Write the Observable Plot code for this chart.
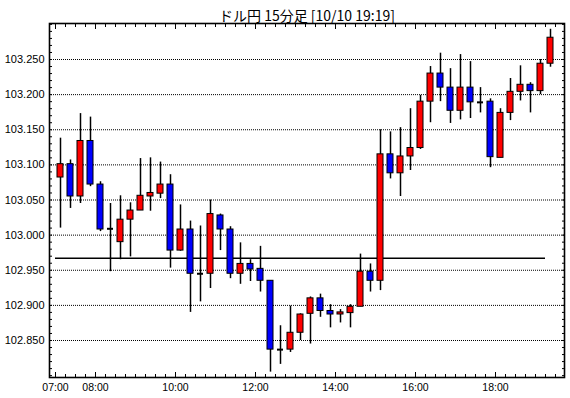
<!DOCTYPE html>
<html><head><meta charset="utf-8">
<script src="https://cdn.jsdelivr.net/npm/d3@7"></script>
<script src="https://cdn.jsdelivr.net/npm/@observablehq/plot@0.6"></script>
<style>body{margin:0;background:#fff;} svg{display:block;}</style>
</head><body><div id="chart"></div>
<script>
const title = "ドル円 15分足 [10/10 19:19]";
const times = ["07:00","07:15","07:30","07:45","08:00","08:15","08:30","08:45","09:00","09:15",
  "09:30","09:45","10:00","10:15","10:30","10:45","11:00","11:15","11:30","11:45",
  "12:00","12:15","12:30","12:45","13:00","13:15","13:30","13:45","14:00","14:15",
  "14:30","14:45","15:00","15:15","15:30","15:45","16:00","16:15","16:30","16:45",
  "17:00","17:15","17:30","17:45","18:00","18:15","18:30","18:45","19:00","19:15"];
const open  = [103.082,103.101,103.055,103.134,103.072,103.009,102.990,103.022,103.035,103.055,
  103.059,103.072,102.978,103.008,102.945,102.945,103.028,103.008,102.945,102.959,
  102.952,102.935,102.837,102.837,102.861,102.888,102.910,102.892,102.887,102.889,
  102.898,102.948,102.935,103.115,103.088,103.112,103.124,103.190,103.230,103.210,
  103.177,103.210,103.189,103.190,103.110,103.174,103.204,103.214,103.205,103.244];
const high  = [103.138,103.107,103.173,103.168,103.076,103.045,103.056,103.046,103.109,103.110,
  103.104,103.086,103.043,103.020,103.013,103.050,103.030,103.012,102.989,102.965,
  102.984,102.935,102.871,102.899,102.888,102.912,102.916,102.901,102.894,102.901,
  102.973,102.959,103.150,103.147,103.153,103.180,103.199,103.240,103.259,103.237,
  103.257,103.247,103.210,103.194,103.180,103.223,103.241,103.217,103.250,103.293];
const low   = [103.010,103.038,103.045,103.069,103.005,102.948,102.965,102.969,103.035,103.034,
  103.052,102.953,102.977,102.890,102.905,102.924,102.978,102.938,102.930,102.934,
  102.919,102.805,102.816,102.833,102.850,102.845,102.883,102.868,102.875,102.868,
  102.898,102.919,102.921,103.080,103.055,103.092,103.122,103.160,103.190,103.159,
  103.164,103.166,103.174,103.096,103.110,103.163,103.191,103.174,103.200,103.239];
const close = [103.101,103.055,103.134,103.072,103.008,103.009,103.022,103.035,103.056,103.060,
  103.072,102.978,103.008,102.945,102.945,103.030,103.008,102.945,102.959,102.951,
  102.935,102.837,102.837,102.861,102.887,102.910,102.892,102.887,102.890,102.898,
  102.948,102.935,103.115,103.088,103.112,103.124,103.190,103.230,103.210,103.177,
  103.210,103.189,103.189,103.111,103.174,103.204,103.214,103.205,103.244,103.281];
const yGrid = [102.85,102.90,102.95,103.00,103.05,103.10,103.15,103.20,103.25];
const xLabelTimes = ["07:00","08:00","10:00","12:00","14:00","16:00","18:00"];
const refLevel = 102.967;
const refSpan = ["07:00","19:15"];

const parse = d3.utcParse("%H:%M");
const MIN = 60000;
const t0 = parse("07:00");
const data = times.map((t, i) => {
  const s = +parse(t);
  return {t: new Date(s + 7.5*MIN), a: new Date(s + 3*MIN), b: new Date(s + 12*MIN),
    open: open[i], high: high[i], low: low[i], close: close[i]};
});
const bodies = data.filter(d => d.open !== d.close);
const dojis = data.filter(d => d.open === d.close);
const xDomain = [new Date(+t0 - 9*MIN), new Date(+t0 + 763.5*MIN)];
const minorX = d3.utcMinute.every(15).range(new Date(+t0), new Date(+t0 + 763.5*MIN));
const majorX = xLabelTimes.map(parse);
const minorY = d3.range(10280, 10331).map(v => v/100);

const chart = Plot.plot({
  width: 570, height: 398,
  marginLeft: 49, marginRight: 6, marginTop: 23, marginBottom: 21,
  style: {fontFamily: "Liberation Sans", fontSize: "10px", background: "white", color: "black", overflow: "visible"},
  x: {type: "utc", domain: xDomain, axis: null, label: null},
  y: {domain: [102.79733, 103.30125], axis: null, label: null},
  color: {type: "identity"},
  marks: [
    Plot.ruleY(yGrid, {stroke: "black", strokeWidth: 1, strokeDasharray: "1,1"}),
    Plot.ruleY([refLevel], {x1: parse(refSpan[0]), x2: parse(refSpan[1]), stroke: "black", strokeWidth: 1.5}),
    Plot.ruleX(data, {x: "t", y1: "low", y2: "high", stroke: "black", strokeWidth: 1.5}),
    Plot.rect(bodies, {x1: "a", x2: "b", y1: "open", y2: "close",
      fill: d => d.close > d.open ? "#ff0000" : "#0000ff", stroke: "black", strokeWidth: 1}),
    Plot.ruleY(dojis, {x1: "a", x2: "b", y: "open", stroke: "black", strokeWidth: 2}),
    Plot.frame({stroke: "black", strokeWidth: 1.6}),
    Plot.axisY({anchor: "left", ticks: yGrid, tickSize: 0, tickPadding: 5, tickFormat: d3.format(".3f"), label: null, fontSize: 11}),
    Plot.axisY({anchor: "left", ticks: minorY, tickSize: -3, fill: "none", label: null}),
    Plot.axisY({anchor: "right", ticks: minorY, tickSize: -3, fill: "none", label: null}),
    Plot.axisX({anchor: "bottom", ticks: majorX, tickSize: 0, tickPadding: 6, tickFormat: d3.utcFormat("%H:%M"), label: null, fontSize: 10.5}),
    Plot.axisX({anchor: "bottom", ticks: minorX, tickSize: -3, fill: "none", label: null}),
    Plot.axisX({anchor: "bottom", ticks: majorX, tickSize: -5, fill: "none", label: null}),
    Plot.axisX({anchor: "top", ticks: minorX, tickSize: -3, fill: "none", label: null}),
    Plot.axisX({anchor: "top", ticks: majorX, tickSize: -5, fill: "none", label: null}),
    Plot.text([title], {frameAnchor: "top", dy: -12, fontSize: 14, fontFamily: "Noto Sans CJK JP", fill: "black"})
  ]
});
document.getElementById("chart").appendChild(chart);
</script>
</body></html>
